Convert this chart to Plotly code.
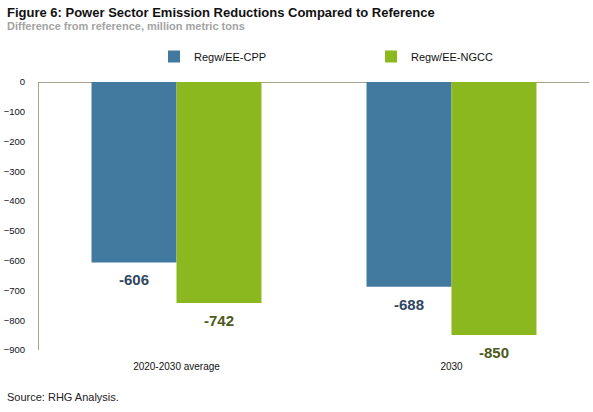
import plotly.graph_objects as go

categories = ["2020-2030 average", "2030"]
series_names = ["Regw/EE-CPP", "Regw/EE-NGCC"]
cpp_values = [-606, -688]
ngcc_values = [-742, -850]
y_ticks = [0, -100, -200, -300, -400, -500, -600, -700, -800, -900]

colors = ["#41799f", "#8ab81e"]
label_colors = ["#2f4660", "#4c5a1c"]
FONT = "Liberation Sans, Arial, sans-serif"

xpos = list(range(len(categories)))

fig = go.Figure()
for name, vals, col in zip(series_names, [cpp_values, ngcc_values], colors):
    fig.add_trace(go.Bar(name=name, x=xpos, y=vals, marker=dict(color=col, line=dict(width=0))))

annotations = []
for i, (vals, lc) in enumerate(zip([cpp_values, ngcc_values], label_colors)):
    for xp, v in zip(xpos, vals):
        annotations.append(dict(
            x=xp, y=v, xref="x", yref="y", text=f"<b>{v}</b>", showarrow=False,
            xshift=(-42.5 if i == 0 else 42.5), yanchor="top", yshift=-7,
            font=dict(family=FONT, size=15, color=lc)))

annotations += [
    dict(text="<b>Figure 6: Power Sector Emission Reductions Compared to Reference</b>",
         xref="paper", yref="paper", x=-34/550, y=1 + (82 - 3) / 268, xanchor="left", yanchor="top",
         showarrow=False, font=dict(family=FONT, size=13, color="#111111")),
    dict(text="<b>Difference from reference, million metric tons</b>",
         xref="paper", yref="paper", x=-34/550, y=1 + (82 - 18) / 268, xanchor="left", yanchor="top",
         showarrow=False, font=dict(family=FONT, size=11, color="#a3a3a3")),
    dict(text="Source: RHG Analysis.",
         xref="paper", yref="paper", x=-34/550, y=-(389 - 350) / 268, xanchor="left", yanchor="top",
         showarrow=False, font=dict(family=FONT, size=11, color="#222222")),
]

fig.update_layout(
    width=593, height=412,
    margin=dict(l=39, r=4, t=82, b=62, autoexpand=False),
    plot_bgcolor="white", paper_bgcolor="white",
    barmode="group", bargap=0.382, bargroupgap=0,
    font=dict(family=FONT, size=10, color="#1a1a2e"),
    showlegend=True,
    legend=dict(orientation="h", x=(154 - 39) / 550, y=1 + (82 - 42) / 268, xanchor="left", yanchor="top",
                font=dict(family=FONT, size=11, color="#111111"), entrywidth=172, entrywidthmode="pixels",
                bgcolor="rgba(0,0,0,0)"),
    annotations=annotations,
)
fig.update_xaxes(range=[-0.5, len(categories) - 0.5], tickvals=xpos, ticktext=categories,
                 showline=False, ticks="", tickfont=dict(size=10, color="#111111"),
                 showgrid=False, zeroline=False, ticklabelstandoff=9, automargin=False)
fig.update_yaxes(range=[-900, 0], tickvals=y_ticks, showgrid=False, zeroline=True, zerolinecolor="#a89f8f",
                 zerolinewidth=1, showline=True, linecolor="#a89f8f", linewidth=1, ticks="",
                 tickfont=dict(size=9.5, color="#111122"), ticklabelstandoff=11, automargin=False)

fig.write_html("out.html", config={"displayModeBar": False},
               post_script="document.body.style.margin='0';")
